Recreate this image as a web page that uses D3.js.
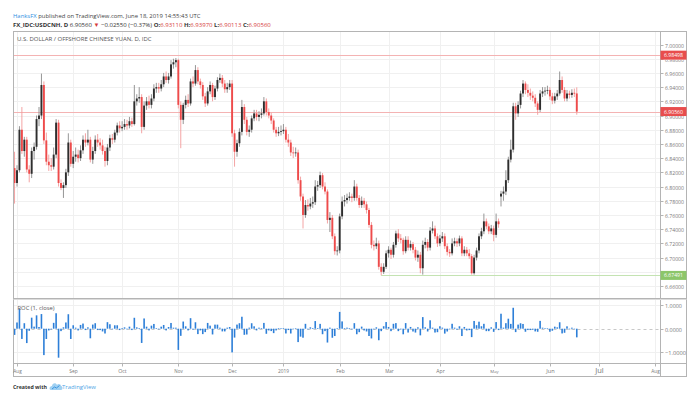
<!DOCTYPE html>
<html>
<head>
<meta charset="utf-8">
<script src="https://cdn.jsdelivr.net/npm/d3@7"></script>
<style>
  body { margin: 0; background: #fff; }
  svg { display: block; font-family: "Open Sans", sans-serif; }
</style>
</head>
<body>
<div id="chart"></div>
<script>
// daily USDCNH bars, Jul 31 2018 .. Jun 18 2019 (weekdays only), one line per month
var opens = [
    6.826,
    6.805,6.823,6.880,6.850,6.866,6.824,6.818,6.850,6.856,6.895,6.900,6.943,6.865,6.835,6.830,6.828,6.845,6.890,6.805,6.798,6.802,6.820,6.862,
    6.832,6.842,6.845,6.840,6.851,6.866,6.862,6.866,6.838,6.850,6.866,6.862,6.858,6.850,6.836,6.855,6.868,6.866,6.876,6.886,
    6.882,6.884,6.888,6.886,6.892,6.888,6.920,6.924,6.926,6.884,6.914,6.920,6.915,6.924,6.938,6.940,6.938,6.944,6.955,6.950,6.955,6.972,6.975,
    6.978,6.915,6.894,6.915,6.922,6.917,6.948,6.945,6.964,6.948,6.943,6.927,6.917,6.934,6.943,6.926,6.938,6.950,6.953,6.945,6.937,6.940,
    6.945,6.875,6.849,6.861,6.877,6.912,6.894,6.877,6.880,6.896,6.903,6.898,6.901,6.903,6.920,6.905,6.900,6.893,6.880,6.875,6.877,
    6.878,6.880,6.866,6.862,6.848,6.847,6.848,6.809,6.786,6.760,6.774,6.772,6.776,6.778,6.800,6.802,6.816,6.800,6.793,6.753,6.756,6.730,6.709,
    6.710,6.758,6.779,6.781,6.784,6.786,6.784,6.800,6.784,6.774,6.780,6.775,6.767,6.746,6.718,6.716,6.720,6.687,6.680,6.687,
    6.706,6.711,6.704,6.718,6.734,6.727,6.725,6.709,6.725,6.714,6.719,6.711,6.700,6.704,6.685,6.718,6.722,6.714,6.738,6.741,6.730,
    6.720,6.727,6.730,6.716,6.708,6.706,6.720,6.723,6.720,6.727,6.706,6.711,6.706,6.702,6.678,6.700,6.710,6.730,6.737,6.751,6.744,6.737,
    6.741,6.732,6.751,6.786,6.790,6.793,6.809,6.838,6.852,6.913,6.903,6.915,6.931,6.945,6.936,6.932,6.928,6.925,6.917,6.908,6.931,6.934,6.935,
    6.936,6.927,6.921,6.927,6.931,6.950,6.936,6.924,6.931,6.929,6.932,6.9311
];
var highs = [
    6.849,
    6.830,6.885,6.912,6.870,6.870,6.830,6.855,6.862,6.900,6.912,6.959,6.948,6.876,6.845,6.840,6.855,6.895,6.894,6.810,6.806,6.825,6.875,6.866,
    6.850,6.855,6.852,6.858,6.872,6.875,6.880,6.870,6.856,6.872,6.874,6.868,6.866,6.856,6.860,6.873,6.874,6.880,6.890,6.892,
    6.892,6.895,6.894,6.898,6.897,6.943,6.930,6.940,6.930,6.920,6.926,6.928,6.930,6.944,6.946,6.946,6.950,6.960,6.962,6.960,6.978,6.980,6.981,
    6.980,6.920,6.918,6.928,6.930,6.952,6.955,6.971,6.968,6.952,6.947,6.932,6.940,6.948,6.946,6.942,6.954,6.959,6.957,6.950,6.946,6.950,
    6.950,6.880,6.866,6.882,6.922,6.916,6.898,6.886,6.900,6.908,6.908,6.906,6.910,6.926,6.924,6.910,6.904,6.896,6.884,6.884,6.886,
    6.888,6.884,6.874,6.866,6.856,6.855,6.852,6.814,6.790,6.781,6.782,6.784,6.786,6.809,6.808,6.821,6.819,6.806,6.796,6.764,6.760,6.734,6.716,
    6.762,6.786,6.788,6.790,6.792,6.790,6.809,6.804,6.788,6.786,6.784,6.779,6.770,6.750,6.724,6.728,6.724,6.692,6.692,6.710,
    6.716,6.714,6.722,6.738,6.740,6.733,6.728,6.730,6.730,6.724,6.722,6.715,6.710,6.708,6.724,6.728,6.726,6.743,6.751,6.745,6.734,
    6.732,6.736,6.734,6.720,6.712,6.727,6.728,6.727,6.731,6.730,6.716,6.715,6.712,6.705,6.704,6.714,6.734,6.742,6.762,6.755,6.748,6.746,
    6.745,6.762,6.755,6.794,6.800,6.823,6.842,6.866,6.918,6.918,6.920,6.935,6.950,6.948,6.944,6.938,6.934,6.930,6.920,6.936,6.940,6.940,6.942,
    6.940,6.932,6.932,6.936,6.962,6.955,6.940,6.936,6.935,6.937,6.938,6.9397
];
var lows = [
    6.776,
    6.800,6.820,6.846,6.842,6.820,6.806,6.812,6.838,6.852,6.885,6.895,6.860,6.830,6.822,6.822,6.824,6.840,6.800,6.795,6.784,6.798,6.815,6.828,
    6.826,6.835,6.834,6.836,6.846,6.856,6.858,6.834,6.832,6.846,6.856,6.852,6.845,6.828,6.830,6.850,6.860,6.862,6.872,6.876,
    6.878,6.880,6.880,6.882,6.884,6.886,6.914,6.918,6.875,6.880,6.908,6.910,6.910,6.920,6.932,6.932,6.934,6.940,6.946,6.945,6.952,6.966,6.968,
    6.910,6.854,6.888,6.910,6.912,6.914,6.940,6.942,6.944,6.938,6.922,6.912,6.914,6.930,6.920,6.922,6.934,6.946,6.940,6.932,6.932,6.936,
    6.870,6.828,6.842,6.856,6.872,6.888,6.872,6.870,6.876,6.892,6.893,6.892,6.896,6.900,6.900,6.896,6.888,6.876,6.870,6.871,6.872,
    6.874,6.862,6.856,6.843,6.840,6.842,6.804,6.780,6.741,6.756,6.766,6.768,6.770,6.774,6.794,6.798,6.796,6.789,6.748,6.736,6.726,6.704,6.703,
    6.706,6.754,6.772,6.776,6.780,6.778,6.780,6.780,6.770,6.770,6.770,6.762,6.742,6.713,6.710,6.712,6.683,6.675,6.677,6.684,
    6.700,6.698,6.700,6.714,6.722,6.720,6.704,6.706,6.710,6.710,6.706,6.696,6.694,6.678,6.676,6.713,6.709,6.710,6.734,6.726,6.715,
    6.716,6.722,6.712,6.703,6.701,6.703,6.716,6.715,6.716,6.702,6.702,6.702,6.698,6.676,6.676,6.696,6.706,6.726,6.733,6.740,6.733,6.733,
    6.723,6.728,6.742,6.772,6.780,6.788,6.805,6.834,6.848,6.894,6.898,6.910,6.926,6.930,6.926,6.922,6.920,6.912,6.901,6.905,6.926,6.928,6.930,
    6.922,6.916,6.917,6.922,6.928,6.932,6.920,6.920,6.924,6.925,6.926,6.90113
];
var closes = [
    6.805,
    6.823,6.880,6.850,6.866,6.824,6.818,6.850,6.856,6.895,6.900,6.943,6.865,6.835,6.830,6.828,6.845,6.890,6.805,6.798,6.802,6.820,6.862,6.832,
    6.842,6.845,6.840,6.851,6.866,6.862,6.866,6.838,6.850,6.866,6.862,6.858,6.850,6.836,6.855,6.868,6.866,6.876,6.886,6.882,
    6.884,6.888,6.886,6.892,6.888,6.920,6.924,6.926,6.884,6.914,6.920,6.915,6.924,6.938,6.940,6.938,6.944,6.955,6.950,6.955,6.972,6.975,6.978,
    6.915,6.894,6.915,6.922,6.917,6.948,6.945,6.964,6.948,6.943,6.927,6.917,6.934,6.943,6.926,6.938,6.950,6.953,6.945,6.937,6.940,6.945,
    6.875,6.849,6.861,6.877,6.912,6.894,6.877,6.880,6.896,6.903,6.898,6.901,6.903,6.920,6.905,6.900,6.893,6.880,6.875,6.877,6.878,
    6.880,6.866,6.862,6.848,6.847,6.848,6.809,6.786,6.760,6.774,6.772,6.776,6.778,6.800,6.802,6.816,6.800,6.793,6.753,6.756,6.730,6.709,6.710,
    6.758,6.779,6.781,6.784,6.786,6.784,6.800,6.784,6.774,6.780,6.775,6.767,6.746,6.718,6.716,6.720,6.687,6.680,6.687,6.706,
    6.711,6.704,6.718,6.734,6.727,6.725,6.709,6.725,6.714,6.719,6.711,6.700,6.704,6.685,6.718,6.722,6.714,6.738,6.741,6.730,6.720,
    6.727,6.730,6.716,6.708,6.706,6.720,6.723,6.720,6.727,6.706,6.711,6.706,6.702,6.678,6.700,6.710,6.730,6.737,6.751,6.744,6.737,6.741,
    6.732,6.751,6.747,6.790,6.793,6.809,6.838,6.852,6.913,6.903,6.915,6.931,6.945,6.936,6.932,6.928,6.925,6.917,6.908,6.931,6.934,6.935,6.936,
    6.927,6.921,6.927,6.931,6.950,6.936,6.924,6.931,6.929,6.932,6.9311,6.9056
];
var prevClose = 6.823; // Jul 30 close, for the first ROC bar

var priceTicks = [7.00, 6.98, 6.96, 6.94, 6.92, 6.90, 6.88, 6.86, 6.84, 6.82, 6.80, 6.78, 6.76, 6.74, 6.72, 6.70, 6.68, 6.66];
var rocTicks = [1, 0, -1];
var monthLabels = ["Aug", "Sep", "Oct", "Nov", "Dec", "2019", "Feb", "Mar", "Apr", "May", "Jun", "Jul", "Aug"];
var levels = [
    {value: 6.98498, color: "#e84d4d", line: "#f4b3b3", from: 0},
    {value: 6.90560, color: "#e84d4d", line: "#f4b3b3", from: 0},
    {value: 6.67491, color: "#8cc66a", line: "#c4e3b2", from: 150}
];

if (opens.length != closes.length || highs.length != closes.length || lows.length != closes.length) {
    console.log("length mismatch", opens.length, highs.length, lows.length, closes.length);
}

var W = 697, H = 394;
var L = 13.5, R = 660.5, RR = 686.5, T = 31.5, mainB = 298, rocT = 300, rocB = 363.5, B = 376.5;

var svg = d3.select("#chart").append("svg").attr("width", W).attr("height", H);
svg.append("rect").attr("width", W).attr("height", H).attr("fill", "#fff");

// weekday calendar, index 0 = Jul 31 2018
var days = d3.timeDay.range(new Date(2018, 6, 31), new Date(2019, 7, 3))
    .filter(function(d){ return d.getDay() != 0 && d.getDay() != 6; });

var x = d3.scaleLinear().domain([1, 262]).range([17, 655]);
var y = d3.scaleLinear().domain([6.66, 7.00]).range([286, 44.5]);
var yR = d3.scaleLinear().domain([-1, 1]).range([352.2, 305.2]);

var monthTicks = [];
for (var k = 1; k < days.length; k++) {
    if (days[k].getMonth() != days[k-1].getMonth()) monthTicks.push(k);
}

var bars = closes.map(function(c, k){
    return {k: k, o: opens[k], h: highs[k], l: lows[k], c: c};
});
var roc = closes.map(function(c, k){
    var p = k == 0 ? prevClose : closes[k-1];
    return {k: k, v: (c - p) / p * 100};
});

var defs = svg.append("defs");
defs.append("clipPath").attr("id", "clipMain").append("rect")
    .attr("x", L).attr("y", T).attr("width", R - L).attr("height", mainB - T);
defs.append("clipPath").attr("id", "clipRoc").append("rect")
    .attr("x", L).attr("y", rocT).attr("width", R - L).attr("height", rocB - rocT);

// grid
var grid = svg.append("g");
grid.selectAll(".hg").data(priceTicks).enter().append("line")
    .attr("x1", L).attr("x2", R)
    .attr("y1", function(d){ return Math.round(y(d)) + 0.5; })
    .attr("y2", function(d){ return Math.round(y(d)) + 0.5; })
    .attr("stroke", "#f0f0f0");
grid.selectAll(".vg").data(monthTicks).enter().append("line")
    .attr("x1", function(d){ return Math.round(x(d)) + 0.5; })
    .attr("x2", function(d){ return Math.round(x(d)) + 0.5; })
    .attr("y1", T).attr("y2", rocB)
    .attr("stroke", "#f0f0f0");
grid.selectAll(".rg").data([1, -1]).enter().append("line")
    .attr("x1", L).attr("x2", R)
    .attr("y1", function(d){ return Math.round(yR(d)) + 0.5; })
    .attr("y2", function(d){ return Math.round(yR(d)) + 0.5; })
    .attr("stroke", "#f0f0f0");

// horizontal levels
svg.append("g").selectAll("line").data(levels).enter().append("line")
    .attr("x1", function(d){ return d.from ? x(d.from) : L; })
    .attr("x2", R)
    .attr("y1", function(d){ return Math.round(y(d.value)) + 0.5; })
    .attr("y2", function(d){ return Math.round(y(d.value)) + 0.5; })
    .attr("stroke", function(d){ return d.line; });

// candles
var cg = svg.append("g").attr("clip-path", "url(#clipMain)");
cg.selectAll(".wick").data(bars).enter().append("line")
    .attr("x1", function(d){ return x(d.k); })
    .attr("x2", function(d){ return x(d.k); })
    .attr("y1", function(d){ return y(d.h); })
    .attr("y2", function(d){ return y(d.l); })
    .attr("stroke", function(d){ return d.c >= d.o ? "#8a8a8a" : "#f39a9a"; })
    .attr("stroke-width", 0.9);
cg.selectAll(".body").data(bars).enter().append("rect")
    .attr("x", function(d){ return x(d.k) - 0.95; })
    .attr("width", 1.9)
    .attr("y", function(d){ return y(Math.max(d.o, d.c)); })
    .attr("height", function(d){ return Math.max(0.8, Math.abs(y(d.o) - y(d.c))); })
    .attr("fill", function(d){ return d.c >= d.o ? "#2e2e2e" : "#ee4b4b"; });

// ROC pane
var rg = svg.append("g").attr("clip-path", "url(#clipRoc)");
rg.append("line").attr("x1", L).attr("x2", R)
    .attr("y1", Math.round(yR(0)) + 0.5).attr("y2", Math.round(yR(0)) + 0.5)
    .attr("stroke", "#c8c8c8").attr("stroke-dasharray", "3,3");
rg.selectAll(".roc").data(roc).enter().append("rect")
    .attr("x", function(d){ return x(d.k) - 0.8; })
    .attr("width", 1.6)
    .attr("y", function(d){ return Math.min(yR(0), yR(d.v)); })
    .attr("height", function(d){ return Math.max(0.6, Math.abs(yR(d.v) - yR(0))); })
    .attr("fill", "#2d7fd8");

// frame
var frame = svg.append("g").attr("fill", "none").attr("stroke", "#b4b4b4");
frame.append("rect").attr("x", L).attr("y", T).attr("width", RR - L).attr("height", B - T);
frame.append("line").attr("x1", R).attr("x2", R).attr("y1", T).attr("y2", B);
frame.append("line").attr("x1", L).attr("x2", RR).attr("y1", rocB).attr("y2", rocB);
frame.append("line").attr("x1", L).attr("x2", RR).attr("y1", mainB + 0.5).attr("y2", mainB + 0.5);
frame.append("line").attr("x1", L).attr("x2", RR).attr("y1", rocT - 0.5).attr("y2", rocT - 0.5).attr("stroke", "#dcdcdc");

function fit(t, w) {
    t.style("font-size", "10px");
    var len = t.node().getComputedTextLength();
    t.style("font-size", (10 * w / len) + "px");
    return t;
}

// price axis; a tick label that sits under a level box is cut to the part left visible
var pa = svg.append("g");
priceTicks.forEach(function(t, i){
    var yy = Math.round(y(t)) + 0.5;
    pa.append("line").attr("x1", R).attr("x2", R + 3).attr("y1", yy).attr("y2", yy).attr("stroke", "#b4b4b4");
    var hit = levels.filter(function(d){ return Math.abs(y(d.value) - (yy - 1)) < 8.5; })[0];
    if (hit) {
        var by = y(hit.value), top = yy - 6, bot = yy + 4;
        var cy = by < yy - 1 ? by + 4.5 : top;
        var ch = by < yy - 1 ? bot - (by + 4.5) : (by - 4.5) - top;
        if (ch <= 0.5) return;
        defs.append("clipPath").attr("id", "tickclip" + i).append("rect")
            .attr("x", R).attr("y", cy).attr("width", RR - R).attr("height", ch);
        fit(pa.append("text").attr("x", 665).attr("y", yy + 2).attr("fill", "#777")
            .attr("clip-path", "url(#tickclip" + i + ")").text(t.toFixed(5)), 19);
        return;
    }
    fit(pa.append("text").attr("x", 665).attr("y", yy + 2).attr("fill", "#777").text(t.toFixed(5)), 19);
});
levels.forEach(function(d){
    var yy = y(d.value);
    pa.append("rect").attr("x", R).attr("y", yy - 4.5).attr("width", RR - R).attr("height", 9).attr("fill", d.color);
    fit(pa.append("text").attr("x", 664).attr("y", yy + 2).attr("fill", "#fff").text(d.value.toFixed(5)), 19);
});

// ROC axis
rocTicks.forEach(function(t){
    var yy = Math.round(yR(t)) + 0.5;
    pa.append("line").attr("x1", R).attr("x2", R + 3).attr("y1", yy).attr("y2", yy).attr("stroke", "#b4b4b4");
    var s = t < 0 ? "\u22121.0000" : t.toFixed(4);
    fit(pa.append("text").attr("x", 665).attr("y", yy + 2).attr("fill", "#777").text(s), t < 0 ? 21 : 17);
});

// time axis
var ta = svg.append("g");
monthTicks.forEach(function(k, i){
    var xx = Math.round(x(k)) + 0.5;
    ta.append("line").attr("x1", xx).attr("x2", xx).attr("y1", rocB).attr("y2", rocB + 3).attr("stroke", "#b4b4b4");
    var t = ta.append("text").attr("x", xx).attr("y", 372.5).attr("text-anchor", "middle")
        .attr("fill", "#777").text(monthLabels[i]);
    fit(t, monthLabels[i].length == 4 ? 11 : 8.5);
});

// pane titles
fit(svg.append("text").attr("x", 17).attr("y", 41).attr("fill", "#555")
    .text("U.S. DOLLAR / OFFSHORE CHINESE YUAN, D, IDC"), 135);
fit(svg.append("text").attr("x", 17.5).attr("y", 309.5).attr("fill", "#555")
    .text("ROC (1, close)"), 37);

// header
var h1 = svg.append("text").attr("x", 13).attr("y", 18).attr("fill", "#444");
h1.append("tspan").attr("fill", "#2f8fdf").text("HanksFX");
h1.append("tspan").text(" published on TradingView.com, June 18, 2019 14:55:43 UTC");
fit(h1, 188);

var red = "#d63b3b";
var h2 = svg.append("text").attr("x", 13).attr("y", 26.5).attr("fill", "#333");
h2.append("tspan").attr("font-weight", "bold").text("FX_IDC:USDCNH, D");
h2.append("tspan").text(" 6.90560 ");
h2.append("tspan").attr("fill", red).text("\u25BC");
h2.append("tspan").text(" \u22120.02550 (\u22120.37%) ");
[["O:", "6.93110"], [" H:", "6.93970"], [" L:", "6.90113"], [" C:", "6.90560"]].forEach(function(p){
    h2.append("tspan").attr("font-weight", "bold").text(p[0]);
    h2.append("tspan").attr("fill", red).text(p[1]);
});
fit(h2, 258);

// footer
var f1 = svg.append("text").attr("x", 13).attr("y", 389).attr("fill", "#333").attr("font-weight", "bold").text("Created with");
fit(f1, 34);
var logo = svg.append("g").attr("transform", "translate(50,382)");
logo.append("path")
    .attr("d", "M1,8 C-1,8 -1,4 2,4 C2,1 6,0 7,3 C8,1 11,2 11,4 C13,4 13,8 11,8 Z")
    .attr("fill", "#9fd0f2");
logo.append("path").attr("d", "M2,7 L4.5,5 L6.5,6 L9.5,3.5")
    .attr("fill", "none").attr("stroke", "#2f8fdf").attr("stroke-width", 0.9);
fit(svg.append("text").attr("x", 62).attr("y", 389).attr("fill", "#4ea5e6").text("TradingView"), 34);
</script>
</body>
</html>
